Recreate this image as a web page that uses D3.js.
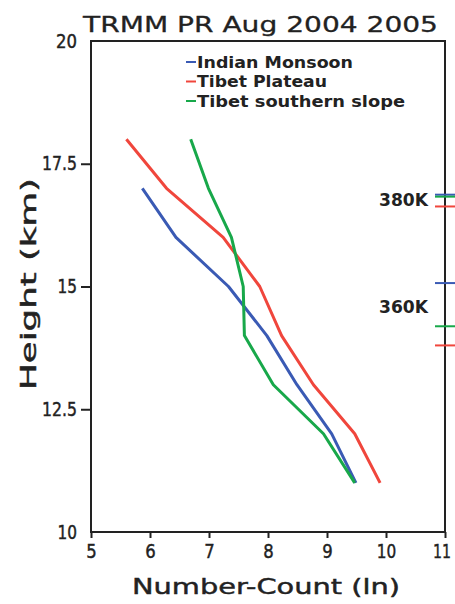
<!DOCTYPE html>
<meta charset="utf-8">
<style>
body { margin: 0; background: #fff; }
text { font-family: "DejaVu Sans", sans-serif; fill: #222; }
.heavy { stroke: #222; stroke-width: 0.45px; }
.line { fill: none; stroke-width: 3px; stroke-linejoin: round; }
</style>
<body>
<script src="https://d3js.org/d3.v7.min.js"></script>
<script>

// data
var heights = [18, 17, 16, 15, 14, 13, 12, 11];
var indianMonsoon = [null, 5.87, 6.44, 7.33, 7.98, 8.49, 9.08, 9.49];
var tibetPlateau = [5.6, 6.28, 7.24, 7.86, 8.23, 8.77, 9.47, 9.90];
var tibetSlope = [6.69, 6.99, 7.38, 7.58, 7.60, 8.09, 8.94, 9.47];

var seriesNames = ["Indian Monsoon", "Tibet Plateau", "Tibet southern slope"];
var seriesColors = ["#3a5ab4", "#f0463c", "#18a84a"];

// isentrope heights per region (right-hand marks)
var k380 = [16.87, 16.63, 16.83];
var k360 = [15.07, 13.80, 14.19];
var isentropeLabels = [{name: "380K", h: 16.78}, {name: "360K", h: 14.6}];

var xTicks = [5, 6, 7, 8, 9, 10, 11];
var yTicks = [10, 12.5, 15, 17.5, 20];

var margin = {top: 41, right: 10, bottom: 72, left: 91},
    width = 455 - margin.left - margin.right,
    height = 604 - margin.top - margin.bottom;

var x = d3.scaleLinear().domain([5, 11]).range([0, width]);
var y = d3.scaleLinear().domain([10, 20]).range([height, 0]);

// width of a number label, narrow digits like the original
function numWidth(s) {
  return String(s).split("").reduce(function(a, c) {
    return a + (c === "." ? 5 : c === "1" ? 9 : 10.5);
  }, 0);
}

var svg = d3.select("body").append("svg")
    .attr("width", 455)
    .attr("height", 604);

var g = svg.append("g")
    .attr("transform", "translate(" + margin.left + "," + margin.top + ")");

// title
svg.append("text")
    .attr("class", "heavy")
    .attr("x", 83).attr("y", 32)
    .attr("textLength", 355).attr("lengthAdjust", "spacingAndGlyphs")
    .style("font-size", "22px").style("stroke-width", "0.3px")
    .text("TRMM  PR  Aug  2004  2005");

// frame
g.append("rect")
    .attr("width", width).attr("height", height)
    .attr("fill", "none").attr("stroke", "#222").attr("stroke-width", 2);

// x axis
var xAxis = g.append("g")
    .attr("transform", "translate(0," + height + ")")
    .call(d3.axisBottom(x).tickValues(xTicks).tickFormat(d3.format("d")).tickSize(6).tickPadding(6));
xAxis.select(".domain").remove();
xAxis.selectAll("line").attr("stroke", "#222").attr("stroke-width", 2);
xAxis.selectAll("text")
    .attr("class", "heavy")
    .attr("dx", function(d) { return d === 11 ? -3.5 : 0; })
    .attr("textLength", function(d) { return numWidth(d); })
    .attr("lengthAdjust", "spacingAndGlyphs")
    .style("font-size", "20px")
    .attr("fill", "#222").attr("font-family", null);

// y axis
var yAxis = g.append("g")
    .call(d3.axisLeft(y).tickValues(yTicks).tickFormat(function(d) { return d; }).tickSize(10).tickPadding(4));
yAxis.select(".domain").remove();
yAxis.selectAll("line").attr("stroke", "#222").attr("stroke-width", 2)
    .style("display", function(d) { return (d === 10 || d === 20) ? "none" : null; });
yAxis.selectAll("text")
    .attr("class", "heavy")
    .attr("textLength", function(d) { return numWidth(d); })
    .attr("lengthAdjust", "spacingAndGlyphs")
    .style("font-size", "19px")
    .attr("fill", "#222").attr("font-family", null);

// axis titles
svg.append("text")
    .attr("class", "heavy")
    .attr("x", 132).attr("y", 594)
    .attr("textLength", 268).attr("lengthAdjust", "spacingAndGlyphs")
    .style("font-size", "22px")
    .text("Number-Count (ln)");

svg.append("text")
    .attr("class", "heavy")
    .attr("transform", "translate(36,390) rotate(-90)")
    .attr("textLength", 212).attr("lengthAdjust", "spacingAndGlyphs")
    .style("font-size", "22px")
    .text("Height (km)");

// profiles
var line = d3.line()
    .defined(function(d) { return d.v != null; })
    .x(function(d) { return x(d.v); })
    .y(function(d) { return y(d.h); });

[indianMonsoon, tibetPlateau, tibetSlope].forEach(function(vals, i) {
  var pts = heights.map(function(h, j) { return {h: h, v: vals[j]}; });
  g.append("path")
      .datum(pts)
      .attr("class", "line")
      .attr("stroke", seriesColors[i])
      .attr("d", line);
});

// isentrope markers at the right edge
[k380, k360].forEach(function(arr) {
  arr.forEach(function(h, i) {
    g.append("line")
        .attr("x1", width - 10).attr("x2", width + 12)
        .attr("y1", y(h)).attr("y2", y(h))
        .attr("stroke", seriesColors[i]).attr("stroke-width", 2);
  });
});
isentropeLabels.forEach(function(d) {
  g.append("text")
      .attr("x", 288).attr("y", y(d.h) + 7)
      .attr("textLength", 49).attr("lengthAdjust", "spacingAndGlyphs")
      .style("font-size", "18px").style("font-weight", "bold")
      .text(d.name);
});

// legend
var legend = g.selectAll(".legend")
    .data(seriesNames)
  .enter().append("g")
    .attr("transform", function(d, i) { return "translate(95," + (21 + i * 19.5) + ")"; });
legend.append("line")
    .attr("x1", 0).attr("x2", 10)
    .attr("stroke", function(d, i) { return seriesColors[i]; })
    .attr("stroke-width", 2);
var legendLen = [156, 130, 208];
legend.append("text")
    .attr("x", 11).attr("y", 5.5)
    .attr("textLength", function(d, i) { return legendLen[i]; })
    .attr("lengthAdjust", "spacingAndGlyphs")
    .style("font-size", "15px").style("font-weight", "bold")
    .text(function(d) { return d; });

</script>
</body>
